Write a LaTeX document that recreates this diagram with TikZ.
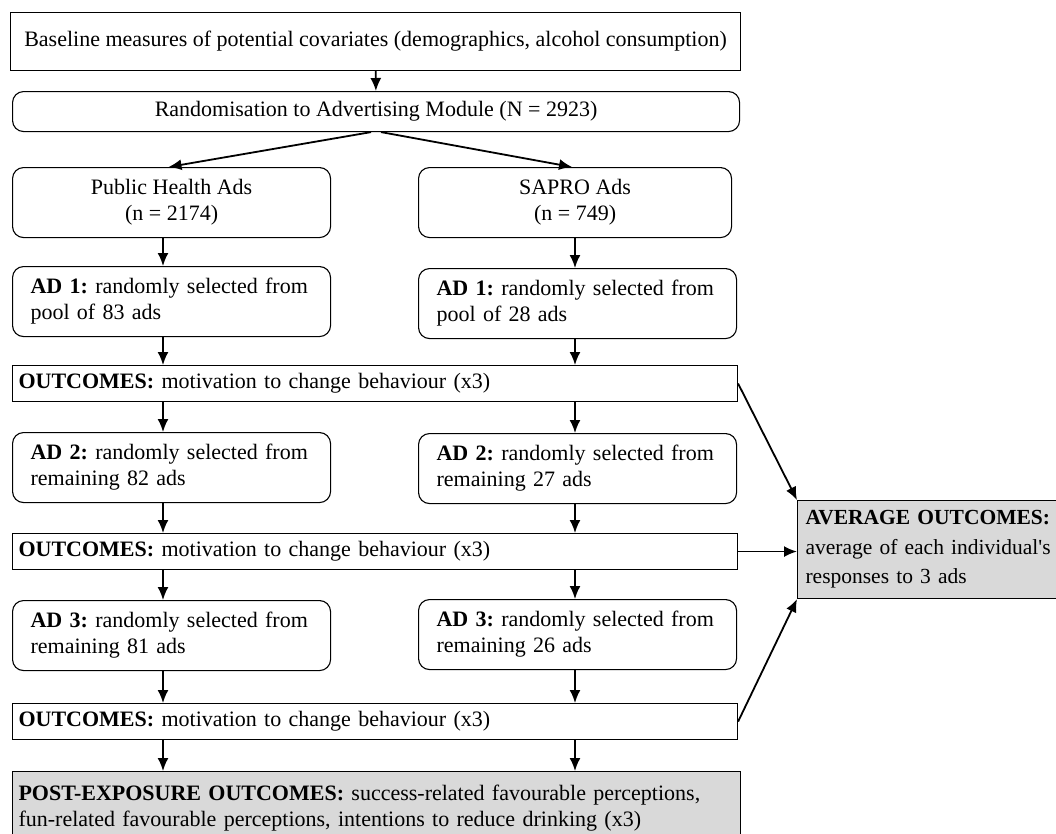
\documentclass[tikz,border=0pt]{standalone}
\usepackage{fontspec}
\setmainfont{Liberation Serif}
\frenchspacing
\usetikzlibrary{arrows.meta}
\definecolor{boxgrey}{HTML}{D9D9D9}
\tikzset{
    plainbox/.style={draw, rectangle, line width=1.1pt, inner sep=0pt, font=\fontsize{22}{26}\selectfont},
    roundbox/.style={plainbox, rounded corners=11pt},
    adbox/.style={roundbox, anchor=north west, minimum width=318pt, minimum height=70pt, inner xsep=18pt, text width=282pt, align=left},
    outbox/.style={plainbox, anchor=north west, minimum width=725pt, minimum height=36pt, inner xsep=6pt, text width=713pt, align=left},
    arr/.style={-{Latex[length=13pt,width=11pt]}, line width=1.8pt}
}
\begin{document}
\begin{tikzpicture}[x=1pt, y=-1pt]
    \useasboundingbox (0,0) rectangle (1056,833);
    % columns for the down arrows
    \coordinate (lcol) at (163,0);
    \coordinate (rcol) at (575,0);
    % top part
    \node[plainbox, anchor=north west, minimum width=730pt, minimum height=58pt] (base) at (10,12)
        {Baseline measures of potential covariates (demographics, alcohol consumption)};
    \node[roundbox, anchor=north west, minimum width=727pt, minimum height=40pt] (rand) at (12,91)
        {Randomisation to Advertising Module (N = 2923)};
    \node[roundbox, anchor=north west, minimum width=318pt, minimum height=70pt, align=center] (ph) at (12,167)
        {Public Health Ads\\(n = 2174)};
    \node[roundbox, anchor=north west, minimum width=313pt, minimum height=70pt, align=center] (sapro) at (418,167)
        {SAPRO Ads\\(n = 749)};
    % ads and outcomes
    \node[adbox] (ad1a) at (12,266) {\textbf{AD 1:} randomly selected from\\pool of 83 ads};
    \node[adbox] (ad1b) at (418,268) {\textbf{AD 1:} randomly selected from\\pool of 28 ads};
    \node[outbox] (out1) at (12,365) {\textbf{OUTCOMES:} motivation to change behaviour (x3)};
    \node[adbox] (ad2a) at (12,432) {\textbf{AD 2:} randomly selected from\\remaining 82 ads};
    \node[adbox] (ad2b) at (418,433) {\textbf{AD 2:} randomly selected from\\remaining 27 ads};
    \node[outbox] (out2) at (12,533) {\textbf{OUTCOMES:} motivation to change behaviour (x3)};
    \node[adbox] (ad3a) at (12,600) {\textbf{AD 3:} randomly selected from\\remaining 81 ads};
    \node[adbox] (ad3b) at (418,599) {\textbf{AD 3:} randomly selected from\\remaining 26 ads};
    \node[outbox] (out3) at (12,703) {\textbf{OUTCOMES:} motivation to change behaviour (x3)};
    % grey boxes
    \node[plainbox, fill=boxgrey, anchor=north west, minimum width=728pt, minimum height=74pt, inner xsep=6pt, text width=716pt, align=left] (post) at (12,771)
        {\textbf{POST-EXPOSURE OUTCOMES:} success-related favourable perceptions,\\fun-related favourable perceptions, intentions to reduce drinking (x3)};
    \node[plainbox, fill=boxgrey, anchor=north west, minimum width=280pt, minimum height=98pt, inner xsep=8pt, text width=264pt, align=left,
        font=\fontsize{21.5}{29.5}\selectfont] (avg) at (797,500)
        {\textbf{AVERAGE OUTCOMES:}\\average of each individual\textquotesingle s\\responses to 3 ads};
    % arrows
    \draw[arr] (base) -- (rand);
    \draw[arr] ([xshift=-5pt]rand.south) -- ([xshift=-3pt]ph.north);
    \draw[arr] ([xshift=5pt]rand.south) -- ([xshift=-3pt]sapro.north);
    \draw[arr] (ph.south -| lcol) -- (ad1a.north -| lcol);
    \draw[arr] (sapro.south -| rcol) -- (ad1b.north -| rcol);
    \foreach \a/\o/\b in {ad1a/out1/ad2a, ad2a/out2/ad3a, ad3a/out3/post} {
        \draw[arr] (\a.south -| lcol) -- (\o.north -| lcol);
        \draw[arr] (\o.south -| lcol) -- (\b.north -| lcol);
    }
    \foreach \a/\o/\b in {ad1b/out1/ad2b, ad2b/out2/ad3b, ad3b/out3/post} {
        \draw[arr] (\a.south -| rcol) -- (\o.north -| rcol);
        \draw[arr] (\o.south -| rcol) -- (\b.north -| rcol);
    }
    \draw[arr] (out1.east) -- (avg.north west);
    \draw[arr] (out2.east) -- (avg.west |- out2.east);
    \draw[arr] (out3.east) -- (avg.south west);
\end{tikzpicture}
\end{document}
